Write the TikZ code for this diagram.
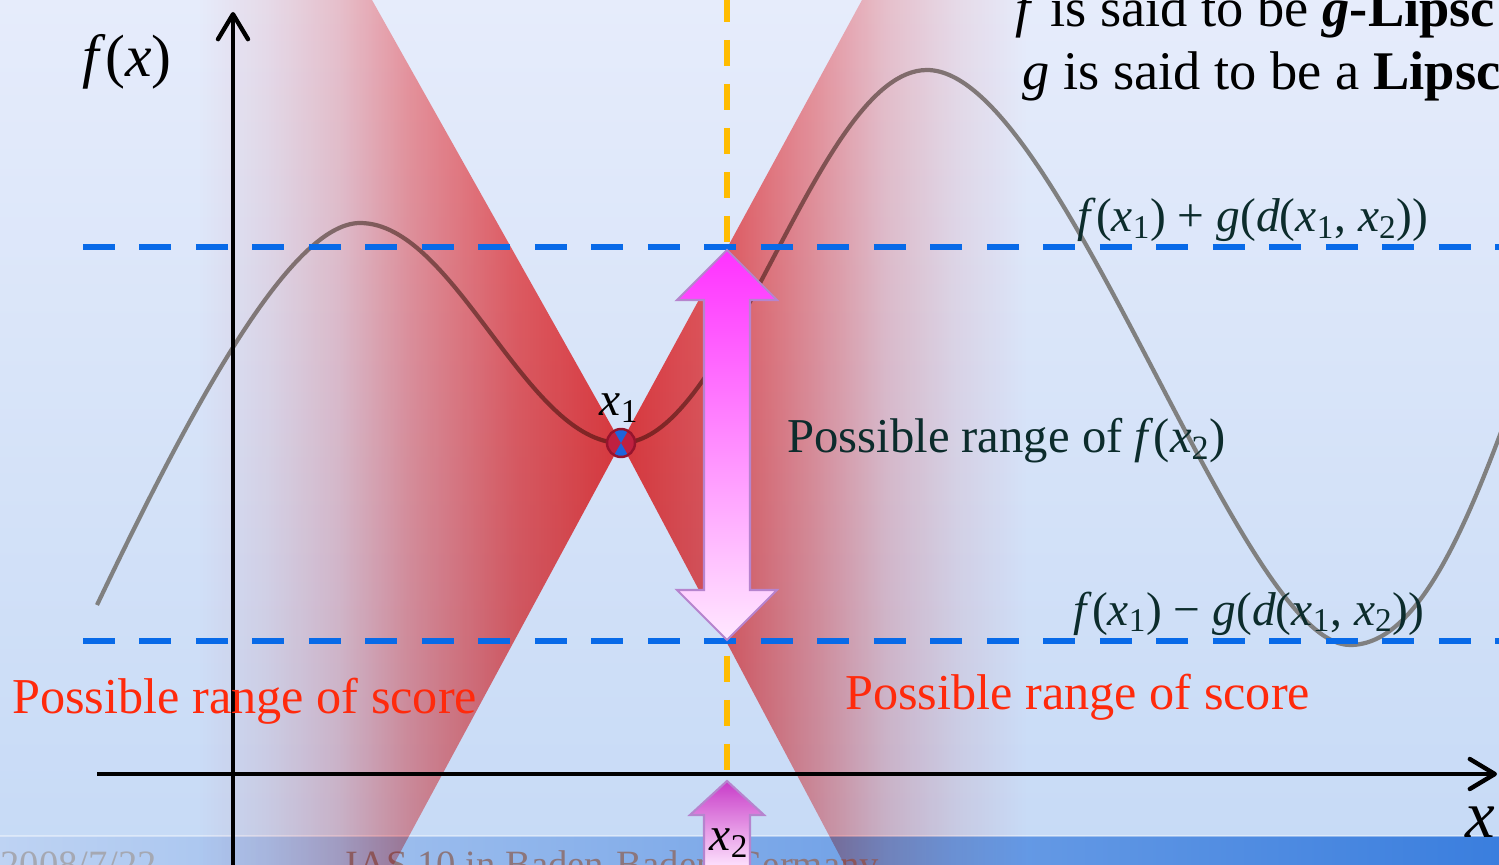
\documentclass[tikz,border=0pt]{standalone}
\usepackage{fontspec}
\setmainfont{Liberation Serif}
\usetikzlibrary{arrows.meta}

\definecolor{bgtop}{RGB}{230,236,251}
\definecolor{bgbot}{RGB}{198,218,246}
\definecolor{footleft}{RGB}{190,211,243}
\definecolor{footright}{RGB}{58,126,222}
\definecolor{conered}{RGB}{255,62,62}
\definecolor{levelblue}{RGB}{8,106,232}
\definecolor{amber}{RGB}{255,188,0}
\definecolor{curvegray}{RGB}{128,128,128}
\definecolor{inkteal}{RGB}{12,44,44}
\definecolor{scorered}{RGB}{255,42,12}
\definecolor{arrowedge}{RGB}{182,132,206}
\definecolor{magtop}{RGB}{255,50,255}
\definecolor{magbot}{RGB}{255,232,255}
\definecolor{smalltop}{RGB}{200,60,200}
\definecolor{ptblue}{RGB}{30,100,220}
\definecolor{ptfill}{RGB}{192,32,64}
\definecolor{ptred}{RGB}{150,20,45}

% shadings for the two cones (square boxes, 25bp..75bp = box width)
\pgfdeclarehorizontalshading{coneleft}{100bp}{color(0bp)=(white); color(51bp)=(white);
    color(55bp)=(conered!10!white); color(59bp)=(conered!25!white);
    color(63bp)=(conered!50!white); color(69bp)=(conered!80!white);
    color(75bp)=(conered); color(100bp)=(conered)}
\pgfdeclarehorizontalshading{coneright}{100bp}{color(0bp)=(conered); color(25bp)=(conered);
    color(31bp)=(conered!80!white); color(36bp)=(conered!50!white);
    color(40bp)=(conered!25!white); color(44bp)=(conered!10!white);
    color(48bp)=(white); color(100bp)=(white)}

% italic x with an index
\newcommand{\xsub}[1]{\textit{x}\textsubscript{#1}}

\begin{document}
\begin{tikzpicture}[
    x=0.02cm, y=-0.02cm,
    % Style for the two axes
    axis/.style={
        line width=2.5pt,
        -{Straight Barb[length=5mm, width=6mm, round]}
    },
    % Style for the blue bound lines
    level/.style={
        levelblue, line width=3.4pt,
        dash pattern=on 0.64cm off 0.49cm
    },
    % Style for the vertical guide at x2
    guide/.style={
        amber, line width=3pt,
        dash pattern=on 0.52cm off 0.36cm
    },
    % Style for the red cones (tinted over what lies below)
    cone/.style={
        blend mode=multiply
    },
    rangearrow/.style={
        draw=arrowedge, line width=1.2pt
    },
    scorelabel/.style={
        text=scorered, anchor=base west, inner sep=0pt,
        font=\fontsize{28.6}{32}\selectfont
    },
    mathlabel/.style={
        text=inkteal, anchor=base west, inner sep=0pt,
        font=\fontsize{27}{31}\selectfont
    }
]

% --- Frame ---
\useasboundingbox (0,0) rectangle (1499,865);
\clip (0,0) rectangle (1499,865);
\shade[top color=bgtop, bottom color=bgbot] (0,0) rectangle (1499,865);

% --- Footer band ---
\shade[left color=footleft, right color=footright] (0,836) rectangle (1499,866);
\draw[white, opacity=0.4, line width=1pt] (0,836) -- (1499,836);
\node[anchor=base west, inner sep=0pt, text={rgb,255:red,165;green,168;blue,178},
    font=\fontsize{22}{26}\selectfont] (date) at (0,877) {2008/7/22};
\node[anchor=base west, inner sep=0pt, text={rgb,255:red,140;green,118;blue,124},
    font=\fontsize{22}{26}\selectfont] (venue) at (345,877) {IAS 10 in Baden-Baden, Germany};

% --- Key points ---
\coordinate (x1) at (621,443);
\coordinate (x2) at (727,774);

% --- Function curve ---
\draw[curvegray, line width=2.4pt]
    (97,605) .. controls (190,410) and (290,223) .. (360,223)
    .. controls (455,223) and (526,443) .. (x1)
    .. controls (731,443) and (817,70) .. (927,70)
    .. controls (1060,70) and (1239,645) .. (1350,645)
    .. controls (1420,645) and (1470,520) .. (1520,380);

% --- Axes ---
\draw[axis] (97,774) -- (1497,774);
\draw[axis] (233,880) -- (233,12);

% --- Cones of possible scores ---
\begin{scope}
    \clip (x1) -- (372,0) -- (-10,0) -- (-10,875) -- (388,875) -- cycle;
    \shade[cone, shading=coneleft] (-263,-10) rectangle (622,875);
\end{scope}
\begin{scope}
    \clip (x1) -- (862,0) -- (1510,0) -- (1510,875) -- (850,875) -- cycle;
    \shade[cone, shading=coneright] (620,-10) rectangle (1505,875);
\end{scope}

% --- Point x1 ---
\begin{scope}
    \clip (x1) circle (0.28cm);
    \fill[ptfill] (x1) circle (0.28cm);
    \fill[ptblue] (x1) -- (604,413) -- (638,413) -- cycle;
    \fill[ptblue] (x1) -- (604,473) -- (638,473) -- cycle;
\end{scope}
\draw[ptred, line width=1.4pt] (x1) circle (0.28cm);

% --- Bounds f(x1) +/- g(d(x1,x2)) ---
\draw[level] (83,247) -- (1510,247);
\draw[level] (83,641) -- (1510,641);
\draw[guide] (727,-4) -- (727,781);

% --- Range arrow ---
\draw[rangearrow, top color=magtop, bottom color=magbot]
    (727,250) -- (777,300) -- (750,300) -- (750,590) -- (777,590) -- (727,640)
    -- (677,590) -- (704,590) -- (704,300) -- (677,300) -- cycle;
\draw[rangearrow, top color=smalltop, bottom color=magbot]
    (727,781) -- (764,815) -- (750,815) -- (750,870) -- (704,870) -- (704,815)
    -- (690,815) -- cycle;

% --- Labels ---
\node[font=\fontsize{34}{38}\selectfont] (fx) at (127,62) {\textit{f}(\textit{x})};
\node[font=\fontsize{38}{42}\selectfont] (xlab) at (1480,822) {\textit{x}};
\node[font=\fontsize{27}{31}\selectfont] (x1lab) at (619,408) {\xsub{1}};
\node[font=\fontsize{27}{31}\selectfont] (x2lab) at (729,843) {\xsub{2}};
\node[mathlabel] (upper) at (1077,232)
    {\textit{f}(\xsub{1}) + \textit{g}(\textit{d}(\xsub{1}, \xsub{2}))};
\node[mathlabel] (lower) at (1073,625)
    {\textit{f}(\xsub{1}) − \textit{g}(\textit{d}(\xsub{1}, \xsub{2}))};
\node[mathlabel, font=\fontsize{27.7}{31}\selectfont] (rangetxt) at (787,452)
    {Possible range of \textit{f}(\xsub{2})};
\node[scorelabel] (scoreL) at (12,713) {Possible range of score};
\node[scorelabel] (scoreR) at (845,709) {Possible range of score};
\node[anchor=base west, inner sep=0pt, font=\fontsize{31}{36}\selectfont] (lip1) at (1015,27)
    {\textit{f} is said to be \textbf{\textit{g}-Lipsc}};
\node[anchor=base west, inner sep=0pt, font=\fontsize{31}{36}\selectfont] (lip2) at (1022,90)
    {\textit{g} is said to be a \textbf{Lipsc}};

\end{tikzpicture}
\end{document}
